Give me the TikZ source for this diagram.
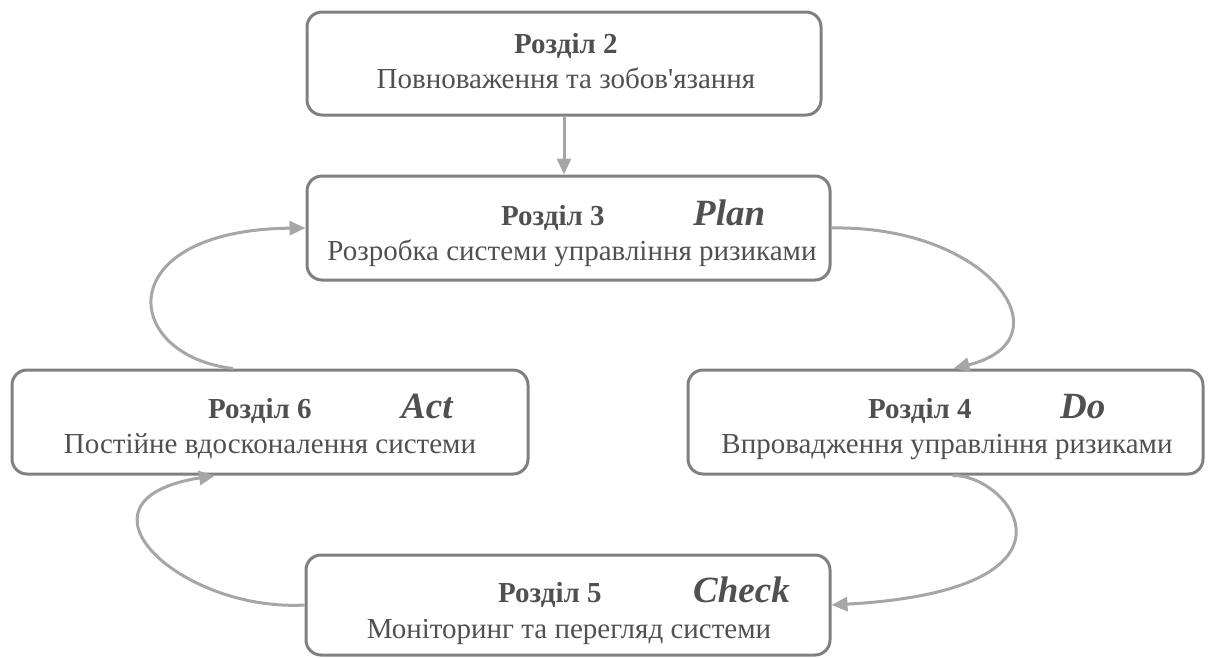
\documentclass[tikz,border=0pt]{standalone}
\usepackage{fontspec}
% family without TeX ligatures, so ' stays a straight apostrophe
\newfontfamily\ser{Liberation Serif}
\usetikzlibrary{arrows.meta}
\definecolor{boxline}{HTML}{808080}
\definecolor{flowline}{HTML}{A6A6A6}
\definecolor{txt}{HTML}{505050}
\begin{document}
\begin{tikzpicture}[x=1pt,y=-1pt,
  stage/.style={draw=boxline,line width=3pt,rounded corners=15pt,inner sep=0pt},
  head/.style={anchor=base west,text=txt,inner sep=0pt,font=\ser\fontsize{29}{34}\selectfont\bfseries},
  phase/.style={anchor=base west,text=txt,inner sep=0pt,font=\ser\fontsize{37}{42}\selectfont\bfseries\itshape},
  desc/.style={anchor=base,text=txt,inner sep=0pt,font=\ser\fontsize{29}{34}\selectfont},
  flow/.style={draw=flowline,line width=3pt,-{Triangle[length=16pt,width=14pt]}}]
\useasboundingbox (0,0) rectangle (1216,657);

% stage boxes
\node[stage,minimum width=514pt,minimum height=103pt] (b2) at (564,63.5) {};
\node[stage,minimum width=523pt,minimum height=104pt] (b3) at (568.5,228) {};
\node[stage,minimum width=516pt,minimum height=104pt] (b6) at (270,422) {};
\node[stage,minimum width=515pt,minimum height=104pt] (b4) at (945.5,422) {};
\node[stage,minimum width=524pt,minimum height=100pt] (b5) at (568,605) {};

% box texts
\node[head] (h2) at (514,53) {Розділ 2};
\node[desc] (d2) at (566,88) {Повноваження та зобов'язання};

\node[head] (h3) at (501,225) {Розділ 3};
\node[phase] (p3) at (693,225) {Plan};
\node[desc] (d3) at (572,260) {Розробка системи управління ризиками};

\node[head] (h6) at (208,418) {Розділ 6};
\node[phase] (p6) at (401,418) {Act};
\node[desc] (d6) at (270,453) {Постійне вдосконалення системи};

\node[head] (h4) at (868,418) {Розділ 4};
\node[phase] (p4) at (1060,418) {Do};
\node[desc] (d4) at (947,453) {Впровадження управління ризиками};

\node[head] (h5) at (498,602) {Розділ 5};
\node[phase] (p5) at (693,602) {Check};
\node[desc] (d5) at (569,638) {Моніторинг та перегляд системи};

% connectors
\draw[flow] (b2.south) -- (b2.south |- b3.north);
\draw[flow] (b3.east) .. controls (990,225) and (1070,340) .. ([xshift=8pt]b4.north);
\draw[flow] ([xshift=7pt]b4.south) .. controls (1010,474) and (1100,590) .. (b5.east);
\draw[flow] (b5.west) .. controls (180,612) and (60,500) .. ([xshift=-55pt]b6.south);
\draw[flow] ([xshift=-37pt]b6.north) .. controls (120,355) and (110,230) .. (b3.west);
\end{tikzpicture}
\end{document}
